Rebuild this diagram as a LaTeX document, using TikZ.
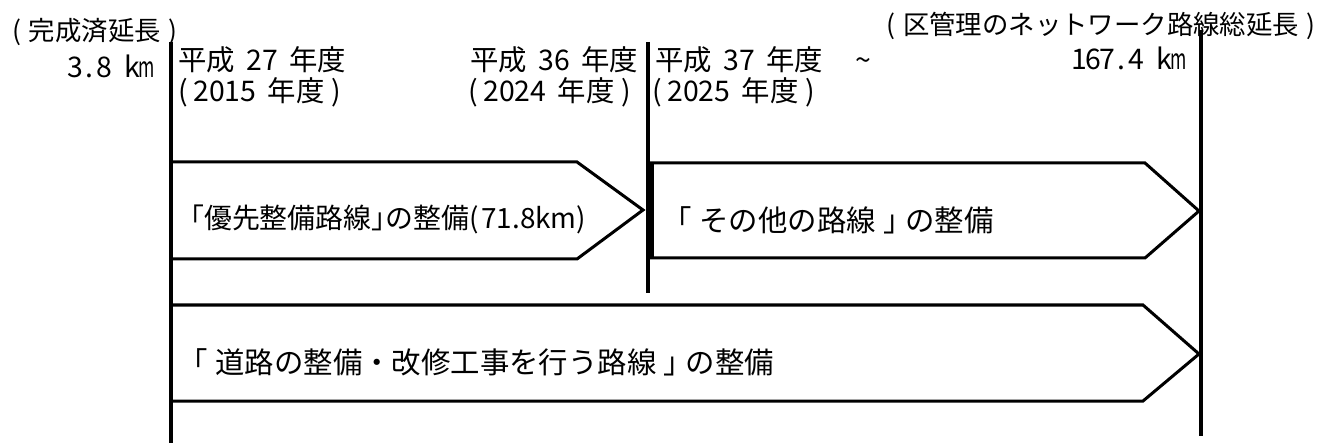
\documentclass[tikz,border=0pt]{standalone}
\usepackage{graphicx}
\usepackage{fontspec}
\setmainfont{Noto Sans CJK JP}
\newcommand\hb[1]{\makebox[0.5em]{#1}}
\newcommand\hm{\makebox[0.5em]{\scalebox{0.62}[1]{m}}}
\newcommand\lpar{\makebox[0.9em]{(}}
\newcommand\rpar{\makebox[0.9em]{)}}
\newcommand\lbrk{\makebox[1em]{\hspace{-0.5em}「}}
\newcommand\rbrk{\makebox[1em]{」\hspace{-0.5em}}}
\newcommand\gap{\hspace{0.4em}}
\begin{document}
\begin{tikzpicture}[x=1bp,y=-1bp,
  txt/.style={inner sep=0pt, font=\fontsize{28.5}{30}\selectfont},
  toptxt/.style={inner sep=0pt, font=\fontsize{26.5}{28}\selectfont},
  arrtxt/.style={inner sep=0pt, font=\fontsize{29.5}{31}\selectfont},
  tline/.style={line width=4bp},
  band/.style={line width=3bp, line join=miter, fill=white}]
\useasboundingbox (0,0) rectangle (1325,443);
% timeline markers
\coordinate (Ltop) at (171,42);   \coordinate (Lbot) at (171,443);
\coordinate (Mtop) at (648,42);   \coordinate (Mbot) at (648,293);
\coordinate (Rtop) at (1201,30);  \coordinate (Rbot) at (1201,436);
\draw[tline] (Mtop) -- (Mbot);
\draw[tline] (Rtop) -- (Rbot);
% arrow bands
\draw[band] (171,162) -- (577,162) -- (643,210) -- (577,259) -- (171,259) -- cycle;
\draw[band] (651,163) -- (1145,163) -- (1199,211) -- (1145,258) -- (651,258) -- cycle;
\draw[band] (171,305) -- (1143,305) -- (1199,354) -- (1143,401) -- (171,401) -- cycle;
\draw[tline] (Ltop) -- (Lbot);
\draw[line width=6bp] (651,163) -- (651,258);
% labels
\node[toptxt, anchor=west] (done) at (5,32) {\lpar 完成済延長\rpar};
\node[txt, anchor=east] (len1) at (154,66) {\hb{3}\hb{.}\hb{8}\hb{ }\hb{k}\hm};
\node[txt, anchor=west] (y27) at (178,60) {平成\gap 27\gap 年度};
\node[txt, anchor=west] (y2015) at (178,92) {(\hspace{0.2em}2015\gap 年度\hspace{0.25em})};
\node[txt, anchor=west] (y36) at (470,60) {平成\gap 36\gap 年度};
\node[txt, anchor=west] (y2024) at (468,92) {(\hspace{0.2em}2024\gap 年度\hspace{0.25em})};
\node[txt, anchor=west] (y37) at (655,60) {平成\gap 37\gap 年度\hspace{32bp}\textasciitilde};
\node[txt, anchor=west] (y2025) at (652,92) {(\hspace{0.2em}2025\gap 年度\hspace{0.25em})};
\node[toptxt, anchor=east] (total) at (1323,26) {\lpar 区管理のネットワーク路線総延長\rpar};
\node[txt, anchor=east] (len2) at (1186,58) {\hb{1}\hb{6}\hb{7}\hb{.}\hb{4}\hb{ }\hb{k}\hm};
\node[arrtxt, anchor=west, font=\fontsize{28}{30}\selectfont] (a1) at (190,219) {｢優先整備路線｣の整備(\hspace{0.1em}71.8km)};
\node[arrtxt, anchor=west] (a2) at (670,220) {\lbrk その他の路線\rbrk の整備};
\node[arrtxt, anchor=west] (a3) at (186,362) {\lbrk 道路の整備・改修工事を行う路線\rbrk の整備};
\end{tikzpicture}
\end{document}
